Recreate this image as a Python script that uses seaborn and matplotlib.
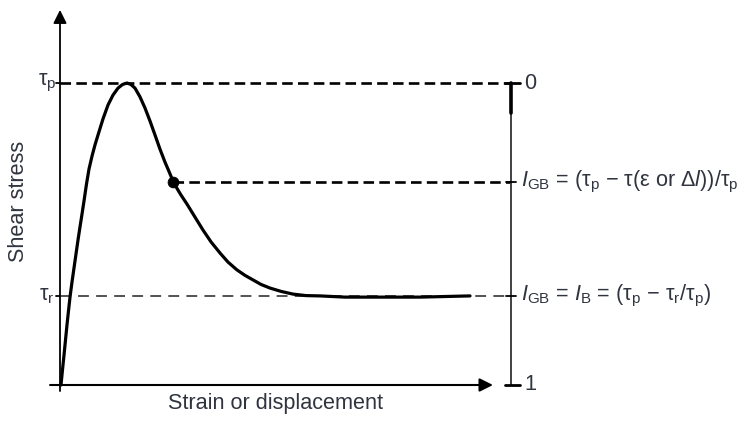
import matplotlib
matplotlib.use("Agg")
import matplotlib.pyplot as plt
import seaborn as sns
import pandas as pd

# ---------------- data ----------------
strain = [0.022, 0.055, 0.089, 0.122, 0.155, 0.188, 0.222, 0.266, 0.310, 0.355,
          0.399, 0.443, 0.488, 0.532, 0.588, 0.643, 0.710, 0.776, 0.843, 0.953,
          1.064, 1.175, 1.286, 1.386, 1.486, 1.574, 1.663, 1.774, 1.885, 1.996,
          2.106, 2.217, 2.328, 2.417, 2.506, 2.594, 2.683, 2.816, 2.993, 3.171,
          3.348, 3.548, 3.725, 3.925, 4.102, 4.279, 4.457, 4.656, 4.900, 5.166,
          5.455, 5.765, 6.319, 6.874, 7.982, 9.091]
stress = [0.000, 0.050, 0.099, 0.149, 0.199, 0.245, 0.291, 0.341, 0.387, 0.434,
          0.480, 0.523, 0.566, 0.609, 0.666, 0.715, 0.758, 0.795, 0.828, 0.881,
          0.927, 0.960, 0.983, 0.995, 1.000, 0.995, 0.983, 0.954, 0.917, 0.874,
          0.828, 0.781, 0.738, 0.707, 0.675, 0.651, 0.629, 0.599, 0.556, 0.513,
          0.474, 0.437, 0.407, 0.381, 0.363, 0.348, 0.333, 0.321, 0.310, 0.301,
          0.296, 0.295, 0.291, 0.291, 0.291, 0.295]
tau_p = 1.0
tau_r = 0.295
point_strain = 2.506
point_stress = 0.672
right_axis_strain = 10.0
left_labels = ["τ$_\\mathrm{p}$", "τ$_\\mathrm{r}$"]
right_tick_labels = ["0", "1"]
igb_labels = [r"$I_\mathrm{GB}$ = (τ$_\mathrm{p}$ − τ(ε or Δ$l$))/τ$_\mathrm{p}$",
              r"$I_\mathrm{GB}$ = $I_\mathrm{B}$ = (τ$_\mathrm{p}$ − τ$_\mathrm{r}$/τ$_\mathrm{p}$)"]
xlabel = "Strain or displacement"
ylabel = "Shear stress"

# ---------------- style ----------------
sns.set_theme(style="white")
plt.rcParams["font.family"] = ["Liberation Sans", "DejaVu Sans"]
plt.rcParams["mathtext.fontset"] = "custom"
plt.rcParams["mathtext.rm"] = "Liberation Sans"
plt.rcParams["mathtext.it"] = "Liberation Sans:italic"
plt.rcParams["mathtext.bf"] = "Liberation Sans:bold"
TXT = "#30343f"
FS = 15.6

W, H = 744, 422
fig = plt.figure(figsize=(W / 100, H / 100), dpi=100)
ax = fig.add_axes([60 / W, (H - 385) / H, 451 / W, 370 / H])
ax.set_xlim(0, 10)
ax.set_ylim(0, 370 / 302)
ax.axis("off")

df = pd.DataFrame({"strain": strain, "stress": stress})

# reference dashed lines
ax.plot([0, right_axis_strain], [tau_p, tau_p], color="black", lw=1.9,
        dashes=(4, 2), clip_on=False)
ax.plot([point_strain, right_axis_strain], [point_stress, point_stress],
        color="black", lw=1.9, dashes=(4, 2), clip_on=False)
ax.plot([0, right_axis_strain], [tau_r, tau_r], color="#444444", lw=1.3,
        dashes=(6, 4), clip_on=False)

# curve
sns.lineplot(data=df, x="strain", y="stress", ax=ax, color="black", lw=2.3,
             sort=False, estimator=None, legend=False)
ax.lines[-1].set_clip_on(False)
ax.lines[-1].set_solid_joinstyle("round")
ax.lines[-1].set_solid_capstyle("round")
sns.scatterplot(x=[point_strain], y=[point_stress], ax=ax, color="black",
                s=60, edgecolor="black", zorder=5, legend=False)

# left axis (arrow)
ax.annotate("", xy=(0, 1.242), xytext=(0, -0.02),
            arrowprops=dict(arrowstyle="-|>", lw=1.3, color="black",
                            mutation_scale=20, shrinkA=0, shrinkB=0),
            annotation_clip=False)
# x axis (arrow)
ax.annotate("", xy=(9.6, 0), xytext=(-0.22, 0),
            arrowprops=dict(arrowstyle="-|>", lw=1.5, color="black",
                            mutation_scale=20, shrinkA=0, shrinkB=0),
            annotation_clip=False)

# right axis
ax.plot([right_axis_strain] * 2, [0, tau_p], color="#333333", lw=1.3, clip_on=False)
ax.plot([right_axis_strain] * 2, [tau_p, tau_p - 0.1], color="black", lw=2.6,
        clip_on=False)
for yv in (tau_p, 0):
    ax.plot([9.87, 10.2], [yv, yv], color="black", lw=2.0, clip_on=False)
for yv in (point_stress, tau_r):
    ax.plot([9.88, 10.12], [yv, yv], color="black", lw=1.3, clip_on=False)
# small ticks on left axis
for yv in (tau_p, tau_r):
    ax.plot([-0.08, 0], [yv, yv], color="black", lw=1.3, clip_on=False)

# labels
ax.text(-0.07, tau_p, left_labels[0], ha="right", va="center", fontsize=FS,
        color=TXT)
ax.text(-0.12, tau_r, left_labels[1], ha="right", va="center", fontsize=FS,
        color=TXT)
ax.text(10.3, tau_p, right_tick_labels[0], ha="left", va="center", fontsize=FS,
        color=TXT)
ax.text(10.3, 0, right_tick_labels[1], ha="left", va="center", fontsize=FS,
        color=TXT)
ax.text(10.22, point_stress, igb_labels[0], ha="left", va="center", fontsize=FS,
        color=TXT)
ax.text(10.22, tau_r, igb_labels[1], ha="left", va="center", fontsize=FS,
        color=TXT)

fig.text(275 / W, 1 - 404 / H, xlabel, ha="center", va="center", fontsize=FS,
         color=TXT)
fig.text(19 / W, 1 - 201 / H, ylabel, ha="center", va="center", fontsize=FS,
         color=TXT, rotation=90)

fig.savefig("out.png", dpi=100)
